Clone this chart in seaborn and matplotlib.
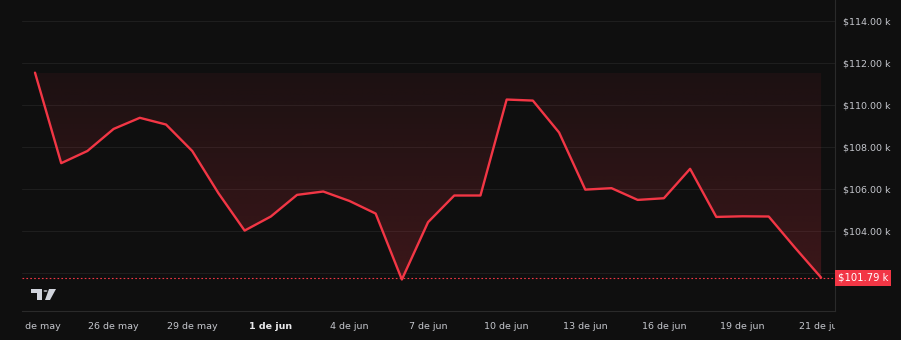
import numpy as np
import pandas as pd
import matplotlib
matplotlib.use("Agg")
import matplotlib.pyplot as plt
import seaborn as sns
from matplotlib.patches import Polygon, Circle
from matplotlib.transforms import Bbox, TransformedBbox, blended_transform_factory
from matplotlib.colors import to_rgb

# ---------------- data ----------------
days = list(range(31))  # 23 May .. last point
prices = [111.55, 107.24, 107.82, 108.87, 109.40, 109.08, 107.82, 105.81, 104.03, 104.70,
          105.73, 105.89, 105.44, 104.84, 101.70, 104.43, 105.70, 105.70, 110.27, 110.22,
          108.70, 105.98, 106.05, 105.49, 105.57, 106.97, 104.68, 104.71, 104.70, 103.22,
          101.79]
tick_days = [0, 3, 6, 9, 12, 15, 18, 21, 24, 27, 30]
tick_labels = ["23 de may", "26 de may", "29 de may", "1 de jun", "4 de jun", "7 de jun",
               "10 de jun", "13 de jun", "16 de jun", "19 de jun", "21 de jun"]
bold_tick = "1 de jun"
y_ticks = [102, 104, 106, 108, 110, 112, 114]
last_price = 101.79
last_label = "$101.79 k"

df = pd.DataFrame({"day": days, "price": prices})

# ---------------- style ----------------
BG = "#0f0f0f"
RED = "#f23645"
GRID = "#1e1e1e"
TXT = "#c4c6cc"

sns.set_theme(style="dark")
plt.rcParams.update({
    "figure.facecolor": BG, "axes.facecolor": BG, "savefig.facecolor": BG,
    "axes.edgecolor": "#2a2a2a", "text.color": TXT,
    "xtick.color": TXT, "ytick.color": TXT,
})
plt.rcParams["font.family"] = ["DejaVu Sans"]

W, H = 901, 340
fig = plt.figure(figsize=(W / 100, H / 100), dpi=100)
ax = fig.add_axes([22 / W, 29 / H, (835 - 22) / W, (311) / H])
ax.set_facecolor(BG)

XLIM = (-0.496, 30.53)
YLIM = (100.20, 115.01)

# grid
for v in y_ticks:
    ax.axhline(v, color=GRID, lw=0.8, zorder=0)

# gradient fill between line and baseline (first value)
base = prices[0]
x = np.array(days, dtype=float)
y = np.array(prices)
verts = [(x[0], base)] + list(zip(x, y)) + [(x[-1], base)]
poly = Polygon(verts, closed=True, facecolor="none", edgecolor="none")
ax.add_patch(poly)
r, g, b = to_rgb(RED)
ymin_f = min(prices)
n = 256
alphas = np.linspace(0.20, 0.06, n)[:, None]  # bottom -> top
img = np.zeros((n, 2, 4))
img[..., 0] = r
img[..., 1] = g
img[..., 2] = b
img[..., 3] = alphas
im = ax.imshow(img, extent=[x[0], x[-1], ymin_f, base], origin="lower",
               aspect="auto", zorder=1, interpolation="bilinear")
im.set_clip_path(poly)

# line
sns.lineplot(data=df, x="day", y="price", ax=ax, color=RED, lw=1.7, zorder=3)

ax.set_xlim(*XLIM)
ax.set_ylim(*YLIM)

# last price dotted line
ax.axhline(last_price, color=RED, lw=0.8, ls=(0, (1.5, 2)), zorder=2)

# axes / spines
for s in ["top", "left"]:
    ax.spines[s].set_visible(False)
for s in ["right", "bottom"]:
    ax.spines[s].set_color("#2a2a2a")
    ax.spines[s].set_linewidth(0.8)
ax.grid(False)
ax.set_xlabel("")
ax.set_ylabel("")

ax.yaxis.tick_right()
ax.set_yticks(y_ticks)
ax.set_yticklabels([f"${v:.2f} k" for v in y_ticks], fontsize=6.8, color=TXT)
ax.tick_params(axis="y", length=0, pad=6)

ax.set_xticks(tick_days)
ax.set_xticklabels(tick_labels, fontsize=6.8, color=TXT)
ax.tick_params(axis="x", length=0, pad=8)
clipbox = TransformedBbox(Bbox([[0, -1], [1, 1]]), ax.transAxes)
for lab in ax.get_xticklabels():
    lab.set_clip_box(clipbox)
    lab.set_clip_on(True)
    if lab.get_text() == bold_tick:
        lab.set_fontweight("bold")
        lab.set_color("#e8e8ea")

# last price tag on the axis
tr = blended_transform_factory(ax.transAxes, ax.transData)
ax.text(1.0 + 3 / (835 - 22), last_price, last_label, transform=tr, fontsize=7.2,
        color="#ffffff", va="center", ha="left", zorder=10, clip_on=False,
        bbox=dict(boxstyle="square,pad=0.3", fc=RED, ec="none"))

# TradingView-like logo (decoration)
def px(xp, yp):
    return (xp / W, 1 - yp / H)

logo_c = "#d1d4dc"
fig.patches.append(Polygon([px(31, 289), px(42, 289), px(42, 300), px(37, 300),
                            px(37, 293), px(31, 293)], closed=True, fc=logo_c, ec="none",
                           transform=fig.transFigure))
fig.patches.append(Circle(px(45.5, 291), 2.0 / W, fc=logo_c, ec="none",
                          transform=fig.transFigure))
fig.patches.append(Polygon([px(49, 289), px(56, 289), px(50, 300), px(45, 300)],
                           closed=True, fc=logo_c, ec="none", transform=fig.transFigure))

fig.savefig("out.png", dpi=100, facecolor=BG)
